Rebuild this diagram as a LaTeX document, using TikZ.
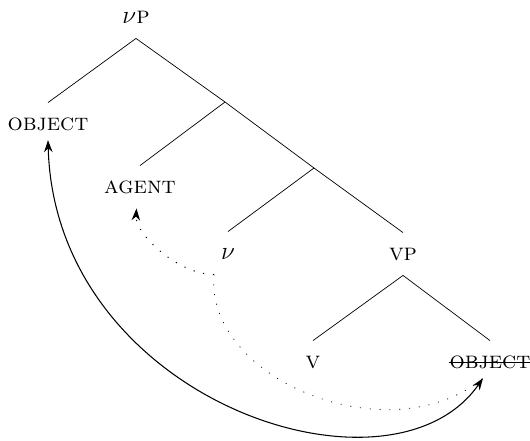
\documentclass[tikz,border=0pt]{standalone}
\usetikzlibrary{arrows.meta, calc}
\tikzset{
  lbl/.style={inner sep=0pt, minimum height=24pt, text height=7pt, text depth=0pt, font=\fontsize{13.6}{16}\selectfont},
  arr/.style={-{Stealth[length=2.4mm, width=1.7mm]}, semithick},
  darr/.style={{Stealth[length=2.4mm, width=1.7mm]}-{Stealth[length=2.4mm, width=1.7mm]}, semithick},
  dots/.style={dash pattern=on 0.6pt off 5pt},
}

\begin{document}
\begin{tikzpicture}[x=0.02cm, y=-0.02cm]
    \useasboundingbox (0,0) rectangle (530,440);
    \node[lbl] (vP) at (136,17) {$\nu$\textsc{p}};
    \node[lbl] (obj) at (48,124) {\textsc{object}};
    \coordinate (n1) at (225,102);
    \node[lbl] (agent) at (140,187) {\textsc{agent}};
    \coordinate (n2) at (314,168);
    \node[lbl] (v) at (228,253) {$\nu$};
    \node[lbl] (VP) at (403,254) {\textsc{vp}};
    \node[lbl] (V) at (313,362) {\textsc{v}};
    \node[lbl] (objcopy) at (490,362) {\textsc{object}};
    \draw (objcopy.west) -- (objcopy.east); % struck out copy
    % tree
    \draw (vP.south) -- (obj.north);
    \draw (vP.south) -- (n1) -- (n2) -- (VP.north);
    \draw (n1) -- (agent.north);
    \draw (n2) -- (v.north);
    \foreach \x in {V,objcopy} \draw (VP.south) -- (\x.north);
    % movement
    \draw[darr] ([yshift=3pt]obj.south) .. controls +(7,261) and +(-92,133) .. ([xshift=-4pt, yshift=3pt]objcopy.south);
    \draw[dots, arr] ([xshift=-8pt]v.south) .. controls (180,275) and (135,235) .. ([xshift=-2pt]agent.south);
    \draw[dots] ([xshift=-8pt]v.south) .. controls (205,380) and (390,455) .. ([xshift=-4pt, yshift=3pt]objcopy.south);
\end{tikzpicture}
\end{document}
